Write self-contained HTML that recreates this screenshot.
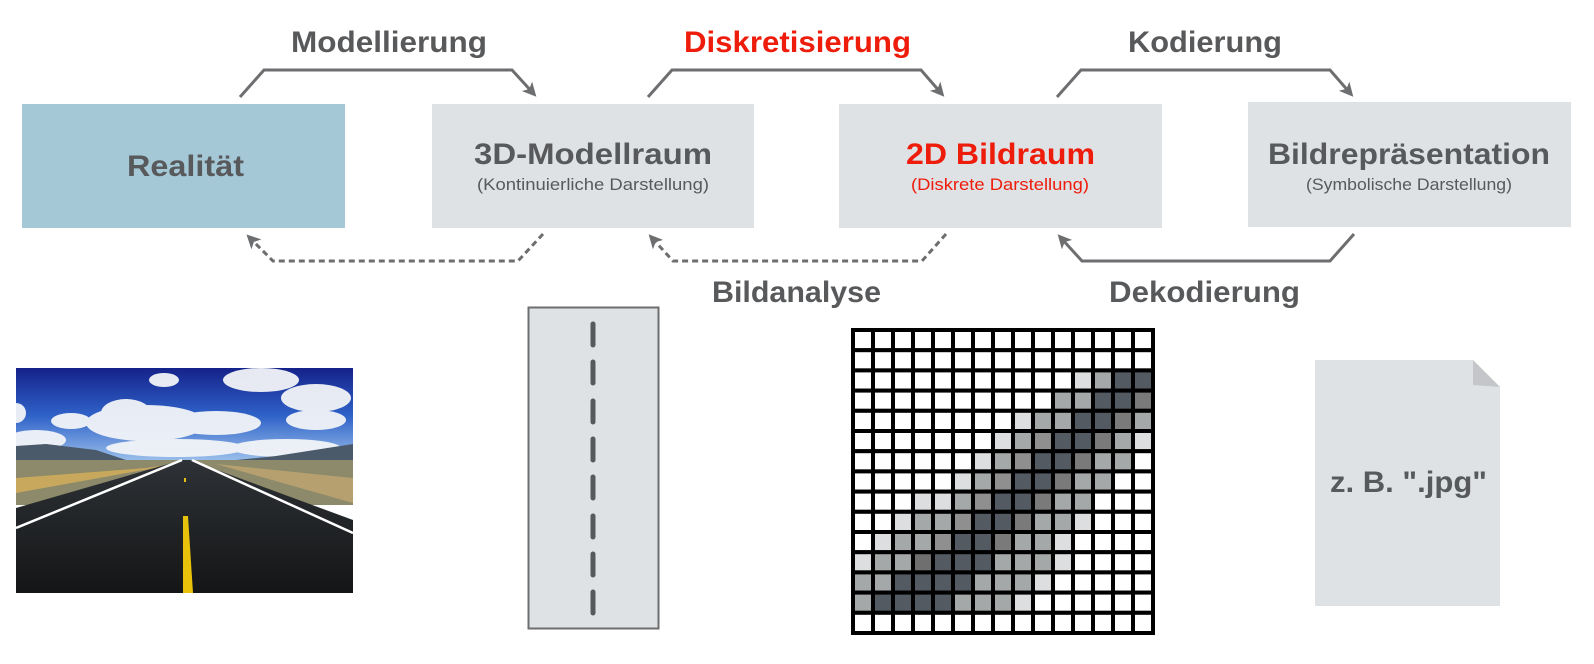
<!DOCTYPE html>
<html><head><meta charset="utf-8"><style>
html,body{margin:0;padding:0;background:#fff;}
svg{display:block;}
text{font-family:"Liberation Sans",sans-serif;}
</style></head><body>
<svg width="1594" height="664" viewBox="0 0 1594 664" xmlns="http://www.w3.org/2000/svg">
<defs>
<marker id="ah" markerWidth="14" markerHeight="14" refX="9" refY="7" orient="auto" markerUnits="userSpaceOnUse" viewBox="0 0 14 14">
<path d="M0,0 L14,7 L0,14 L3.5,7 z" fill="#6d6e70"/>
</marker>
<linearGradient id="sky" x1="0" y1="0" x2="0" y2="1">
<stop offset="0" stop-color="#14228a"/><stop offset="0.5" stop-color="#2f62c8"/><stop offset="1" stop-color="#9fc3ec"/>
</linearGradient>
<linearGradient id="asph" x1="0" y1="0" x2="0" y2="1">
<stop offset="0" stop-color="#2e3236"/><stop offset="1" stop-color="#141516"/>
</linearGradient>
</defs>

<rect x="22" y="104" width="323" height="124" fill="#a5c8d7"/>
<rect x="432" y="104" width="322" height="124" fill="#dfe2e5"/>
<rect x="839" y="104" width="323" height="124" fill="#dfe2e5"/>
<rect x="1248" y="102" width="323" height="125" fill="#dfe2e5"/>

<g font-weight="bold" font-size="30" fill="#58595b">
<text x="127" y="176" textLength="117" lengthAdjust="spacingAndGlyphs">Realität</text>
<text x="474" y="164" textLength="238" lengthAdjust="spacingAndGlyphs">3D-Modellraum</text>
<text x="906" y="164" textLength="189" lengthAdjust="spacingAndGlyphs" fill="#ee1c0b">2D Bildraum</text>
<text x="1268" y="164" textLength="282" lengthAdjust="spacingAndGlyphs">Bildrepräsentation</text>
<text x="291" y="52" textLength="196" lengthAdjust="spacingAndGlyphs">Modellierung</text>
<text x="684" y="52" textLength="227" lengthAdjust="spacingAndGlyphs" fill="#ee1c0b">Diskretisierung</text>
<text x="1128" y="52" textLength="154" lengthAdjust="spacingAndGlyphs">Kodierung</text>
<text x="712" y="302" textLength="169" lengthAdjust="spacingAndGlyphs">Bildanalyse</text>
<text x="1109" y="302" textLength="191" lengthAdjust="spacingAndGlyphs">Dekodierung</text>
</g>
<g font-size="17" fill="#58595b">
<text x="477" y="190" textLength="232" lengthAdjust="spacingAndGlyphs">(Kontinuierliche Darstellung)</text>
<text x="911" y="190" textLength="178" lengthAdjust="spacingAndGlyphs" fill="#ee1c0b">(Diskrete Darstellung)</text>
<text x="1306" y="190" textLength="206" lengthAdjust="spacingAndGlyphs">(Symbolische Darstellung)</text>
</g>

<g fill="none" stroke="#6d6e70" stroke-width="3">
<polyline points="240,97 264,70 512,70 533,93" marker-end="url(#ah)"/>
<polyline points="648,97 672,70 921,70 941,93" marker-end="url(#ah)"/>
<polyline points="1057,97 1081,70 1330,70 1350,93" marker-end="url(#ah)"/>
<polyline points="1354,234 1330,261 1082,261 1061,238" marker-end="url(#ah)"/>
<polyline points="543,234 518,261 273,261 250,238" stroke-dasharray="6,4" marker-end="url(#ah)"/>
<polyline points="946,234 922,261 673,261 652,238" stroke-dasharray="6,4" marker-end="url(#ah)"/>
</g>

<svg x="16" y="368" width="337" height="225" viewBox="0 0 337 225">
<rect width="337" height="95" fill="url(#sky)"/>
<g fill="#f2f4f8" opacity="0.95">
<ellipse cx="130" cy="55" rx="60" ry="18"/><ellipse cx="110" cy="45" rx="25" ry="14"/>
<ellipse cx="200" cy="55" rx="45" ry="12"/><ellipse cx="245" cy="12" rx="38" ry="12"/>
<ellipse cx="300" cy="30" rx="35" ry="14"/><ellipse cx="300" cy="52" rx="30" ry="10"/>
<ellipse cx="55" cy="53" rx="20" ry="8"/><ellipse cx="20" cy="72" rx="30" ry="10"/>
<ellipse cx="160" cy="80" rx="70" ry="9"/><ellipse cx="270" cy="80" rx="55" ry="9"/>
<ellipse cx="148" cy="12" rx="15" ry="7"/><ellipse cx="0" cy="45" rx="10" ry="10"/>
</g>
<path d="M0,78 L30,76 L80,82 L110,92 L200,94 L260,88 L337,76 L337,95 L0,95 z" fill="#4a5a6a"/>
<rect y="92" width="337" height="45" fill="#8c8a6a"/>
<path d="M0,110 L130,100 L166,95 L0,125 z" fill="#c8a85c"/>
<path d="M200,96 L337,110 L337,135 z" fill="#b6a070"/>
<path d="M166,92 L174,92 L337,152 L337,225 L0,225 L0,140 z" fill="url(#asph)"/>
<path d="M166,92 L0,160" stroke="#fff" stroke-width="2.5"/>
<path d="M176,92 L337,165" stroke="#fff" stroke-width="2.5"/>
<path d="M167,148 L172,148 L177,225 L167,225 z" fill="#e8c20a"/>
<rect x="168" y="110" width="2" height="4" fill="#e8c20a"/>
</svg>

<rect x="528.5" y="307.5" width="130" height="321" fill="#dfe2e5" stroke="#6d6e70" stroke-width="2"/>
<g stroke="#58595b" stroke-width="5" stroke-linecap="round">
<line x1="593" y1="324" x2="593" y2="345"/>
<line x1="593" y1="362" x2="593" y2="383"/>
<line x1="593" y1="401" x2="593" y2="422"/>
<line x1="593" y1="439" x2="593" y2="460"/>
<line x1="593" y1="477" x2="593" y2="498"/>
<line x1="593" y1="516" x2="593" y2="537"/>
<line x1="593" y1="554" x2="593" y2="575"/>
<line x1="593" y1="592" x2="593" y2="613"/>
</g>

<g id="grid" stroke="#000" stroke-width="4"></g>

<path d="M1315,360 L1473,360 L1500,387 L1500,606 L1315,606 z" fill="#dfe2e5"/>
<path d="M1473,360 L1473,385 L1500,387 z" fill="#c4c6ca"/>
<text x="1330" y="492" font-weight="bold" font-size="30" fill="#58595b" textLength="157" lengthAdjust="spacingAndGlyphs">z. B. ".jpg"</text>
</svg>
<script>
var rows=["WWWWWWWWWWWWWWW","WWWWWWWWWWWWWWW","WWWWWWWWWWWLGKK","WWWWWWWWWWGGKKD","WWWWWWWWLGGKKDG","WWWWWWWLGMKKDGL","WWWWWWLGMKKDGGW","WWWWWLGMKKDGGWW","WWWLLGMKKDGGWWW","WWLGGMKKDGGLWWW","WLGGMKKDGGLWWWW","LGGEKKKGGGLWWWW","GGKKKKGGGLWWWWW","GKKKKGGGLWWWWWW","WWWWWWWWWWWWWWW"];
var c={W:"#ffffff",L:"#dcdee0",G:"#a5a8a8",M:"#8f8f8f",D:"#7a7a7a",K:"#545a62",E:"#6f6f6f"};
var g=document.getElementById("grid"),s="";
for(var r=0;r<15;r++)for(var k=0;k<15;k++){s+='<rect x="'+(853+k*20)+'" y="'+(330+r*20.2)+'" width="20" height="20.2" fill="'+c[rows[r][k]]+'"/>';}
g.innerHTML=s;
</script>
</body></html>
